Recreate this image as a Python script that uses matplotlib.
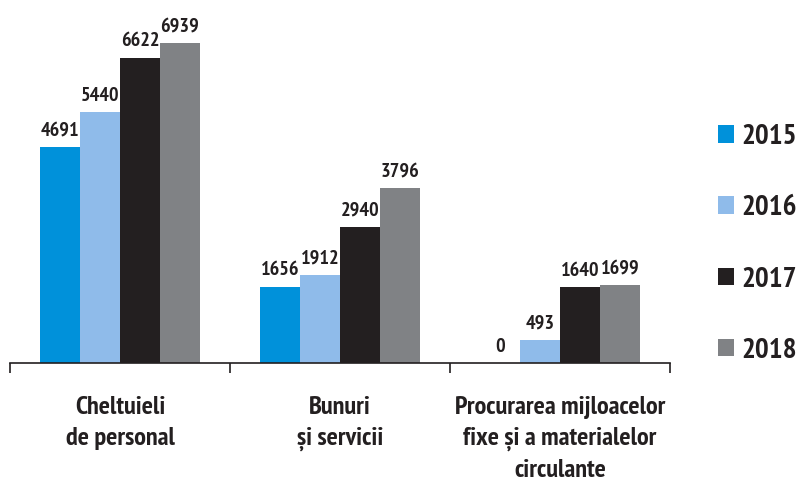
import matplotlib
matplotlib.use("Agg")
import matplotlib.pyplot as plt
import numpy as np

plt.rcParams['font.family'] = ['PT Sans Narrow', 'DejaVu Sans']

categories = ["Cheltuieli\nde personal", "Bunuri\nși servicii",
              "Procurarea mijloacelor\nfixe și a materialelor\ncirculante"]
years = ["2015", "2016", "2017", "2018"]
values = {
    "2015": [4691, 1656, 0],
    "2016": [5440, 1912, 493],
    "2017": [6622, 2940, 1640],
    "2018": [6939, 3796, 1699],
}
colors = ["#0091da", "#8fbbea", "#231f20", "#808285"]
text_color = "#231f20"

fig = plt.figure(figsize=(8.01, 4.82), dpi=100)
ax = fig.add_axes([10 / 801, 119 / 482, 660 / 801, 320 / 482])

x = np.arange(len(categories))
w = 40 / 220
for i, yr in enumerate(years):
    pos = x + (i - 1.5) * w
    ax.bar(pos, values[yr], width=w, color=colors[i], label=yr)
    for p, v in zip(pos, values[yr]):
        ax.text(p, v + 160, str(v), ha='center', va='bottom', fontsize=14.5,
                fontweight='bold', color=text_color, clip_on=False)

ax.set_xlim(-0.5, 2.5)
ax.set_ylim(0, 6939)
for s in ['top', 'right', 'left']:
    ax.spines[s].set_visible(False)
ax.spines['bottom'].set_color(text_color)
ax.spines['bottom'].set_linewidth(1.2)
ax.set_yticks([])

ax.set_xticks(x)
ax.set_xticklabels(categories, fontsize=19, fontweight='bold', color=text_color,
                   linespacing=1.42)
ax.tick_params(axis='x', which='major', length=0, pad=24)
ax.set_xticks([-0.5, 0.5, 1.5, 2.5], minor=True)
ax.tick_params(axis='x', which='minor', length=7, width=1.2, color=text_color)

leg = fig.legend(loc='center left', bbox_to_anchor=(718 / 801, 1 - 244 / 482),
                 frameon=False, handlelength=0.55, handleheight=0.55,
                 handletextpad=0.25, labelspacing=1.55, borderpad=0,
                 borderaxespad=0, prop={'size': 21, 'weight': 'bold'})
for t in leg.get_texts():
    t.set_color(text_color)

fig.savefig("out.png", dpi=100)
